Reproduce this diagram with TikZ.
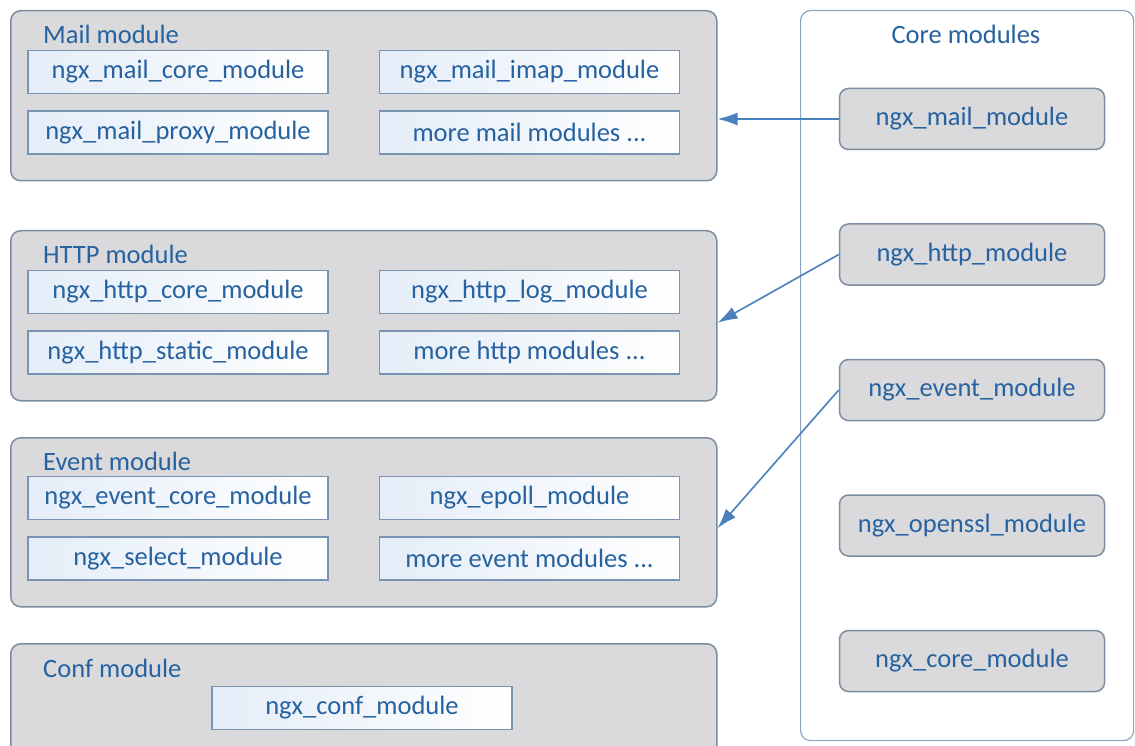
\documentclass[tikz,border=0pt]{standalone}
\usepackage{fontspec}
\setmainfont{Carlito}
\usepackage{tikz}
\usetikzlibrary{positioning, arrows.meta}
\definecolor{textblue}{RGB}{38,98,160}
\definecolor{arrowblue}{RGB}{74,128,190}
\definecolor{groupfill}{RGB}{218,218,220}
\definecolor{groupedge}{RGB}{125,142,160}
\definecolor{boxedge}{RGB}{120,148,178}
\definecolor{boxtint}{RGB}{228,237,248}
\definecolor{frameedge}{RGB}{140,165,192}
\tikzstyle{group}      = [rectangle, rounded corners=10pt, minimum width=706pt, draw=groupedge, fill=groupfill, line width=1.5pt, anchor=north west]
\tikzstyle{submodule}  = [rectangle, minimum width=300pt, minimum height=43pt, text centered, draw=boxedge, line width=1.5pt, left color=boxtint, right color=white, text=textblue]
\tikzstyle{coremodule} = [rectangle, rounded corners=9pt, minimum width=265pt, minimum height=61pt, text centered, draw=groupedge, fill=groupfill, line width=1.5pt, text=textblue]
\tikzstyle{grouptitle} = [anchor=west, inner sep=0pt, text=textblue]
\tikzstyle{feeds}      = [line width=1.6pt, draw=arrowblue, -{Latex[length=20pt, width=13pt]}]

\begin{document}
\begin{tikzpicture}[x=1pt, y=-1pt, font=\fontsize{26.5pt}{30pt}\selectfont]
    \useasboundingbox (0,0) rectangle (1135,746);

    % Frames
    \node (mail_group)  [group, minimum height=170pt] at (10,10)  {};
    \node (http_group)  [group, minimum height=170pt] at (10,230) {};
    \node (event_group) [group, minimum height=169pt] at (10,437) {};
    \node (conf_group)  [group, minimum height=120pt] at (10,643) {};
    \node (core_group)  [rectangle, rounded corners=10pt, minimum width=333pt, minimum height=730pt, draw=frameedge, line width=1.2pt, fill=white, anchor=north west] at (800,10) {};

    % Titles
    \node (mail_title)  [grouptitle] at (43,34)  {Mail module};
    \node (http_title)  [grouptitle] at (43,254) {HTTP module};
    \node (event_title) [grouptitle] at (43,461) {Event module};
    \node (conf_title)  [grouptitle] at (43,668) {Conf module};
    \node (core_title)  [text=textblue] at (966,34) {Core modules};

    % Nodes
    %% Mail module
    \node (mail_core)   [submodule] at (178,72)                {ngx\_mail\_core\_module};
    \node (mail_imap)   [submodule, right=50pt of mail_core]  {ngx\_mail\_imap\_module};
    \node (mail_proxy)  [submodule, below=16pt of mail_core]  {ngx\_mail\_proxy\_module};
    \node (mail_more)   [submodule, below=16pt of mail_imap]  {more mail modules ...};
    %% HTTP module
    \node (http_core)   [submodule] at (178,292)               {ngx\_http\_core\_module};
    \node (http_log)    [submodule, right=50pt of http_core]  {ngx\_http\_log\_module};
    \node (http_static) [submodule, below=16pt of http_core]  {ngx\_http\_static\_module};
    \node (http_more)   [submodule, below=16pt of http_log]   {more http modules ...};
    %% Event module
    \node (event_core)  [submodule] at (178,498)               {ngx\_event\_core\_module};
    \node (event_epoll) [submodule, right=50pt of event_core] {ngx\_epoll\_module};
    \node (event_select)[submodule, below=16pt of event_core] {ngx\_select\_module};
    \node (event_more)  [submodule, below=16pt of event_epoll]{more event modules ...};
    %% Conf module
    \node (conf_core)   [submodule] at (362,708)               {ngx\_conf\_module};
    %% Core modules
    \node (core_mail)   [coremodule] at (972,119)              {ngx\_mail\_module};
    \node (core_http)   [coremodule, below=73pt of core_mail]  {ngx\_http\_module};
    \node (core_event)  [coremodule, below=73pt of core_http]  {ngx\_event\_module};
    \node (core_ssl)    [coremodule, below=73pt of core_event] {ngx\_openssl\_module};
    \node (core_core)   [coremodule, below=73pt of core_ssl]   {ngx\_core\_module};

    % Arrows
    \draw [feeds] (core_mail.west)  -- (core_mail.west -| mail_group.east);
    \draw [feeds] (core_http.west)  -- ([yshift=-7pt]http_group.east);
    \draw [feeds] (core_event.west) -- ([yshift=-6pt]event_group.east);
\end{tikzpicture}
\end{document}
